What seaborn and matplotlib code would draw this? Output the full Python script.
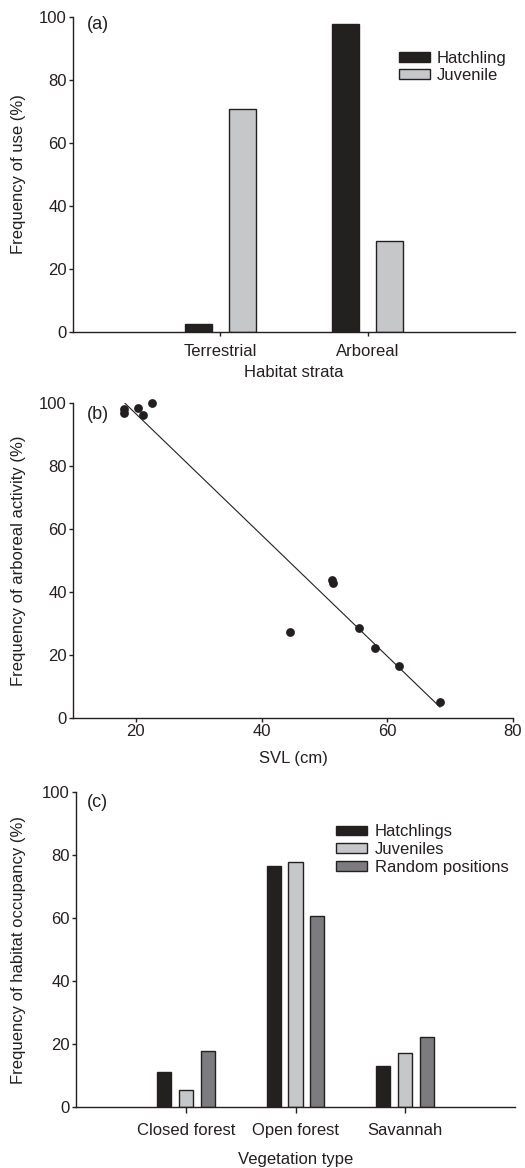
import matplotlib
matplotlib.use("Agg")
import matplotlib.pyplot as plt
import seaborn as sns
import pandas as pd
import numpy as np

# ---- Data ----
strata = ["Terrestrial", "Arboreal"]
hatchling_use = [2.4, 97.7]
juvenile_use = [70.9, 28.9]

svl = [18.1, 18.1, 20.3, 21.2, 22.6, 44.5, 51.2, 51.4, 55.5, 58.1, 61.9, 68.4]
arboreal_freq = [98.1, 96.9, 98.6, 96.2, 100.0, 27.1, 43.8, 42.7, 28.4, 22.2, 16.5, 5.1]

veg_types = ["Closed forest", "Open forest", "Savannah"]
hatchlings_occ = [11.1, 76.7, 12.9]
juveniles_occ = [5.4, 77.9, 17.2]
random_occ = [17.7, 60.7, 22.2]

ink = "#231f20"
c_black = "#231f20"
c_light = "#c6c7c9"
c_dark = "#7b7c80"

sns.set_theme(style="ticks")
plt.rcParams["font.family"] = ["Liberation Sans", "DejaVu Sans"]
plt.rcParams.update({
    "font.size": 12,
    "axes.edgecolor": ink,
    "axes.labelcolor": ink,
    "xtick.color": ink,
    "ytick.color": ink,
    "text.color": ink,
    "axes.linewidth": 1.0,
    "xtick.major.width": 1.0,
    "ytick.major.width": 1.0,
    "xtick.major.size": 3,
    "ytick.major.size": 3,
})

fig = plt.figure(figsize=(5.25, 11.68), dpi=100)
W, H = 525, 1168

def add_ax(l, r, t, b):
    return fig.add_axes([l / W, 1 - b / H, (r - l) / W, (b - t) / H])

axa = add_ax(73, 515, 17, 332)
axb = add_ax(73, 513, 403.3, 717.7)
axc = add_ax(76, 515, 792.3, 1106.7)

# ---- (a) ----
dfa = pd.DataFrame({
    "strata": strata * 2,
    "value": hatchling_use + juvenile_use,
    "group": ["Hatchling"] * 2 + ["Juvenile"] * 2,
})
sns.barplot(data=dfa, x="strata", y="value", hue="group", order=strata,
            hue_order=["Hatchling", "Juvenile"],
            palette=[c_black, c_light], width=0.6, gap=0.39,
            edgecolor=ink, linewidth=1.0, ax=axa, errorbar=None)
axa.set_xlim(-1, 2)
axa.set_ylim(0, 100)
axa.set_yticks([0, 20, 40, 60, 80, 100])
axa.set_ylabel("Frequency of use (%)")
axa.set_xlabel("Habitat strata")
axa.tick_params(axis="x", pad=5.5, labelsize=12)
axa.tick_params(axis="y", pad=1.5, labelsize=12)
axa.yaxis.set_label_coords(-0.106, 0.5)
axa.xaxis.set_label_coords(0.5, -0.106)
axa.text(0.032, 0.975, "(a)", transform=axa.transAxes, ha="left", va="center", fontsize=13)
axa.legend(loc="upper left", bbox_to_anchor=(0.738, 0.893), frameon=False,
           borderpad=0, borderaxespad=0, handlelength=1.85, handleheight=0.55,
           handletextpad=0.42, labelspacing=0.16, fontsize=12)
sns.despine(ax=axa)

# ---- (b) ----
dfb = pd.DataFrame({"svl": svl, "freq": arboreal_freq})
sns.regplot(data=dfb, x="svl", y="freq", ci=None, truncate=True, ax=axb,
            scatter_kws={"s": 40, "color": ink, "alpha": 1, "linewidths": 0,
                         "clip_on": False, "zorder": 3},
            line_kws={"color": ink, "lw": 0.8})
axb.set_xlim(10, 80)
axb.set_ylim(0, 100)
axb.set_xticks([20, 40, 60, 80])
axb.set_yticks([0, 20, 40, 60, 80, 100])
axb.set_ylabel("Frequency of arboreal activity (%)")
axb.set_xlabel("SVL (cm)")
axb.tick_params(axis="x", pad=1.5, labelsize=12)
axb.tick_params(axis="y", pad=1.5, labelsize=12)
axb.yaxis.set_label_coords(-0.107, 0.5)
axb.xaxis.set_label_coords(0.5, -0.105)
axb.text(0.032, 0.963, "(b)", transform=axb.transAxes, ha="left", va="center", fontsize=13)
sns.despine(ax=axb)

# ---- (c) ----
dfc = pd.DataFrame({
    "veg": veg_types * 3,
    "value": hatchlings_occ + juveniles_occ + random_occ,
    "group": ["Hatchlings"] * 3 + ["Juveniles"] * 3 + ["Random positions"] * 3,
})
sns.barplot(data=dfc, x="veg", y="value", hue="group", order=veg_types,
            hue_order=["Hatchlings", "Juveniles", "Random positions"],
            palette=[c_black, c_light, c_dark], width=0.6, gap=0.36,
            edgecolor=ink, linewidth=1.0, ax=axc, errorbar=None)
axc.set_xlim(-1, 3)
axc.set_ylim(0, 100)
axc.set_yticks([0, 20, 40, 60, 80, 100])
axc.set_ylabel("Frequency of habitat occupancy (%)")
axc.set_xlabel("Vegetation type")
axc.tick_params(axis="x", pad=7.5, length=4, labelsize=12)
axc.tick_params(axis="y", pad=1.5, labelsize=12)
axc.yaxis.set_label_coords(-0.114, 0.5)
axc.xaxis.set_label_coords(0.5, -0.145)
axc.text(0.025, 0.967, "(c)", transform=axc.transAxes, ha="left", va="center", fontsize=13)
axc.legend(loc="upper left", bbox_to_anchor=(0.592, 0.898), frameon=False,
           borderpad=0, borderaxespad=0, handlelength=1.85, handleheight=0.5,
           handletextpad=0.48, labelspacing=0.16, fontsize=12)
sns.despine(ax=axc)

fig.savefig("out.png", dpi=100)
